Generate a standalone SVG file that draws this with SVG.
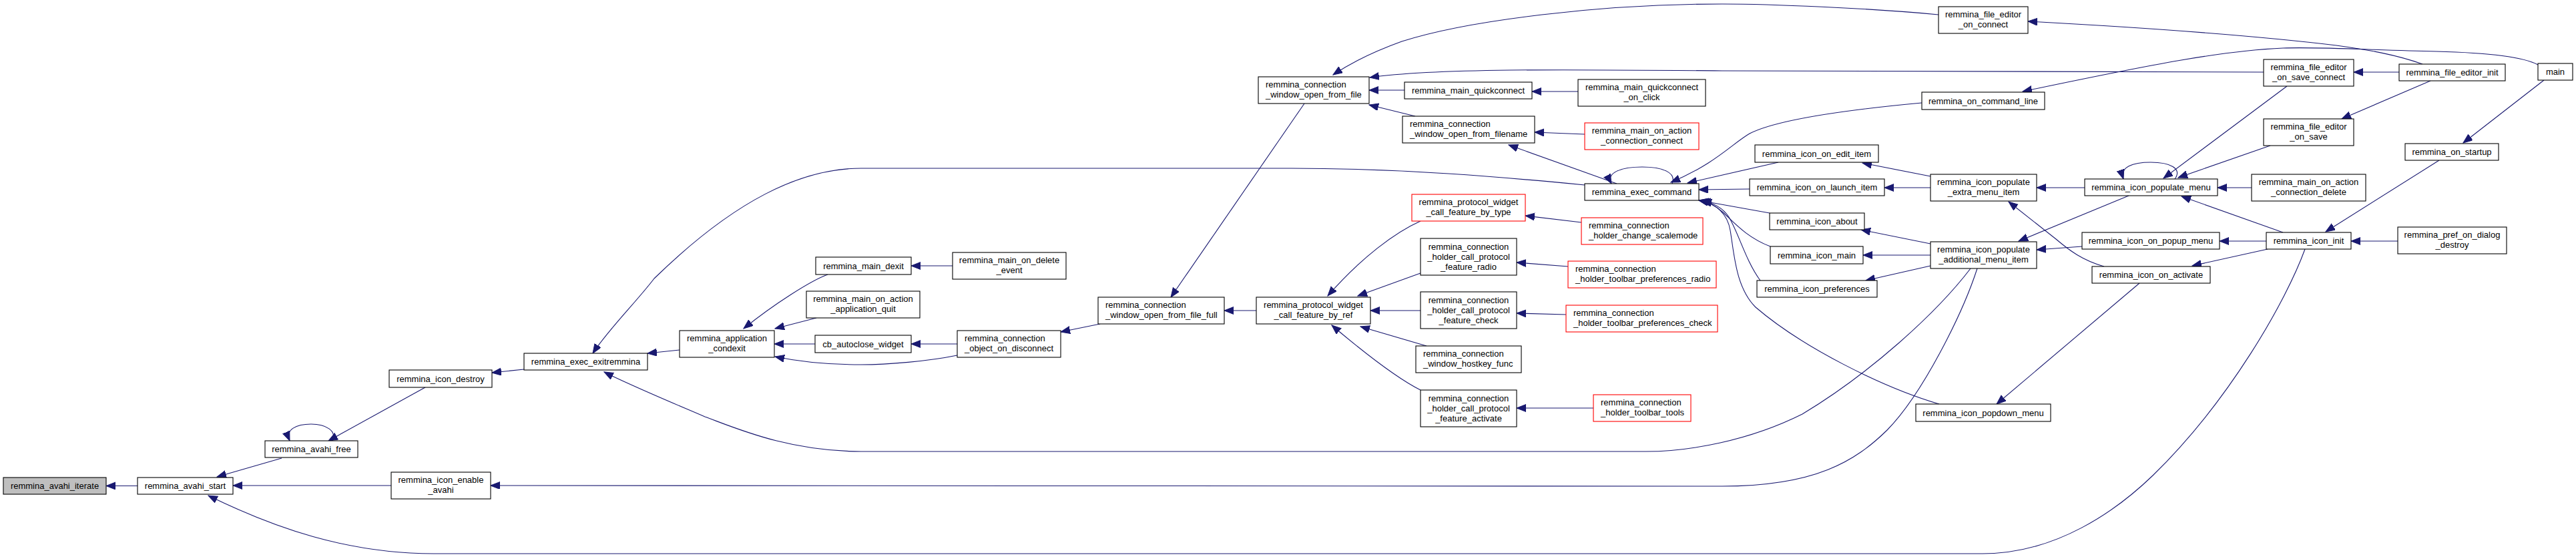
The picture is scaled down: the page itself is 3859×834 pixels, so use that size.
<svg xmlns="http://www.w3.org/2000/svg" width="3859" height="834" viewBox="0 0 3859 834">
<style>
.n rect{fill:#fff;stroke:#000;stroke-width:1.1}
.n.r rect{stroke:#ff0000}
.n.s rect{fill:#bfbfbf}
text{font-family:"Liberation Sans",Arial,Helvetica,sans-serif;font-size:13px;fill:#000}
.c{text-anchor:middle}
.l{text-anchor:start}
#edges path{fill:none;stroke:#191970;stroke-width:1.1;marker-end:url(#ah)}
</style>
<defs>
<marker id="ah" markerUnits="userSpaceOnUse" markerWidth="15" markerHeight="12" refX="14" refY="5.5" orient="auto" viewBox="0 0 15 12">
<path d="M0,0 L14,5.5 L0,11 z" fill="#191970" stroke="#191970" stroke-width="1"/>
</marker>
</defs>
<rect x="0" y="0" width="3859" height="834" fill="#fff"/>
<g id="edges">
<path d="M206,727.5 L159,727.5"/>
<path d="M422,686 L325,714"/>
<path d="M498,660 C505,645 488,635 466,635 C444,635 427,643 434,660"/>
<path d="M637,580 L492,660"/>
<path d="M586,727 L349,727"/>
<path d="M2962,402 C2940,470 2880,590 2827,644 C2780,690 2720,728 2580,728 L735,727"/>
<path d="M3453,373 C3425,450 3340,600 3225,712 C3170,765 3080,829 2970,829 L650,829 C520,829 410,790 312,742"/>
<path d="M785,553 L737,558"/>
<path d="M1018,524 L970,529"/>
<path d="M2374,277 C2250,265 2100,252 1935,252 L1290,252 C1200,252 1100,300 980,417 C955,450 910,495 888,529"/>
<path d="M2952,402 C2900,470 2800,560 2700,620 C2620,660 2530,676 2466,676 L1290,676 C1180,676 1100,640 1056,624 C1000,600 940,575 905,557"/>
<path d="M1240,411 C1215,420 1160,455 1114,492"/>
<path d="M1223,476 L1161,492"/>
<path d="M1221,515 L1160,515"/>
<path d="M1434,532 C1390,541 1330,546 1290,546 C1230,546 1190,540 1161,534"/>
<path d="M1427,398 L1365,398"/>
<path d="M1434,515 L1365,515"/>
<path d="M1648,485 L1589,497"/>
<path d="M1954,155 L1754,445"/>
<path d="M1882,465 L1834,465"/>
<path d="M2104,135 L2051,135"/>
<path d="M2120,174 L2051,157"/>
<path d="M2904,22 C2800,12 2650,6 2580,6 C2400,6 2200,30 2100,62 C2050,80 2015,100 1997,112"/>
<path d="M3391,108 L2580,106 C2350,104 2150,102 2052,116"/>
<path d="M2364,137 L2295,137"/>
<path d="M2374,201 L2299,198"/>
<path d="M2422,275 L2260,217"/>
<path d="M2505,275 C2512,258 2490,250 2460,250 C2430,250 2405,258 2414,275"/>
<path d="M2879,154 C2760,165 2660,180 2621,200 C2595,215 2570,245 2503,273"/>
<path d="M2664,243 L2528,274"/>
<path d="M2621,283 L2545,284"/>
<path d="M2651,319 L2545,300"/>
<path d="M2652,369 C2615,355 2595,330 2580,317 C2570,308 2560,303 2545,300"/>
<path d="M2637,420 C2615,390 2605,350 2590,325 C2580,310 2565,303 2548,300"/>
<path d="M2905,605 C2820,580 2700,520 2630,460 C2600,430 2598,380 2592,345 C2588,320 2570,305 2550,301"/>
<path d="M2892,264 L2790,244"/>
<path d="M2892,281 L2823,281"/>
<path d="M3123,281 L3051,281"/>
<path d="M3152,399 C3120,390 3100,375 3080,358 L3009,302"/>
<path d="M2892,365 L2788,344"/>
<path d="M2892,382 L2791,382"/>
<path d="M2892,398 L2795,420"/>
<path d="M3189,293 L3024,361"/>
<path d="M3119,369 L3051,374"/>
<path d="M3205,424 L2991,605"/>
<path d="M3258,268 C3270,252 3250,243 3222,243 C3195,243 3175,250 3181,268"/>
<path d="M3426,129 L3241,267"/>
<path d="M3401,218 L3263,266"/>
<path d="M3373,281 L3322,281"/>
<path d="M3420,348 L3268,294"/>
<path d="M3395,361 L3325,361"/>
<path d="M3397,373 L3284,398"/>
<path d="M3592,361 L3522,361"/>
<path d="M3654,240 L3484,347"/>
<path d="M3811,120 L3690,214"/>
<path d="M3641,121 L3508,178"/>
<path d="M3594,108 L3526,108"/>
<path d="M3629,96 C3590,82 3550,75 3500,68 C3350,50 3150,38 3038,32"/>
<path d="M3802,97 C3780,85 3730,79 3650,77 C3550,75 3480,70 3420,72 C3330,76 3230,95 3030,137"/>
<path d="M2128,331 C2090,348 2040,385 1989,443"/>
<path d="M2128,409 L2034,443"/>
<path d="M2128,465 L2053,465"/>
<path d="M2137,518 L2038,489"/>
<path d="M2128,584 C2090,565 2040,525 1995,487"/>
<path d="M2369,333 L2285,323"/>
<path d="M2349,399 L2272,393"/>
<path d="M2346,471 L2272,469"/>
<path d="M2387,611 L2272,611"/>
</g>
<g id="n1" class="n s"><rect x="5" y="715" width="154" height="25"/><text class="c" x="82" y="732">remmina_avahi_iterate</text></g>
<g id="n2" class="n"><rect x="206" y="715" width="143" height="25"/><text class="c" x="277.5" y="732">remmina_avahi_start</text></g>
<g id="n3" class="n"><rect x="397" y="660" width="139" height="25"/><text class="c" x="466.5" y="677">remmina_avahi_free</text></g>
<g id="n4" class="n"><rect x="583" y="554" width="154" height="26"/><text class="c" x="660" y="571.5">remmina_icon_destroy</text></g>
<g id="n5" class="n"><rect x="586" y="707" width="149" height="40"/><text class="c" x="660.5" y="723">remmina_icon_enable</text><text class="c" x="660.5" y="738">_avahi</text></g>
<g id="n6" class="n"><rect x="785" y="529" width="185" height="25"/><text class="c" x="877.5" y="546">remmina_exec_exitremmina</text></g>
<g id="n7" class="n"><rect x="1018" y="495" width="142" height="40"/><text class="c" x="1089" y="511">remmina_application</text><text class="c" x="1089" y="526">_condexit</text></g>
<g id="n8" class="n"><rect x="1208" y="436" width="170" height="40"/><text class="c" x="1293" y="452">remmina_main_on_action</text><text class="c" x="1293" y="467">_application_quit</text></g>
<g id="n9" class="n"><rect x="1221" y="502" width="144" height="26"/><text class="c" x="1293" y="519.5">cb_autoclose_widget</text></g>
<g id="n10" class="n"><rect x="1222" y="385" width="143" height="26"/><text class="c" x="1293.5" y="402.5">remmina_main_dexit</text></g>
<g id="n11" class="n"><rect x="1427" y="378" width="170" height="40"/><text class="c" x="1512" y="394">remmina_main_on_delete</text><text class="c" x="1512" y="409">_event</text></g>
<g id="n12" class="n"><rect x="1434" y="495" width="155" height="40"/><text class="l" x="1445" y="511">remmina_connection</text><text class="l" x="1445" y="526">_object_on_disconnect</text></g>
<g id="n13" class="n"><rect x="1645" y="445" width="189" height="40"/><text class="l" x="1656" y="461">remmina_connection</text><text class="l" x="1656" y="476">_window_open_from_file_full</text></g>
<g id="n14" class="n"><rect x="1882" y="445" width="171" height="40"/><text class="c" x="1967.5" y="461">remmina_protocol_widget</text><text class="c" x="1967.5" y="476">_call_feature_by_ref</text></g>
<g id="n15" class="n"><rect x="1885" y="115" width="166" height="40"/><text class="l" x="1896" y="131">remmina_connection</text><text class="l" x="1896" y="146">_window_open_from_file</text></g>
<g id="n16" class="n"><rect x="2104" y="123" width="191" height="25"/><text class="c" x="2199.5" y="140">remmina_main_quickconnect</text></g>
<g id="n17" class="n"><rect x="2364" y="119" width="191" height="40"/><text class="c" x="2459.5" y="135">remmina_main_quickconnect</text><text class="c" x="2459.5" y="150">_on_click</text></g>
<g id="n18" class="n"><rect x="2101" y="174" width="198" height="40"/><text class="l" x="2112" y="190">remmina_connection</text><text class="l" x="2112" y="205">_window_open_from_filename</text></g>
<g id="n19" class="n r"><rect x="2374" y="184" width="171" height="40"/><text class="c" x="2459.5" y="200">remmina_main_on_action</text><text class="c" x="2459.5" y="215">_connection_connect</text></g>
<g id="n20" class="n"><rect x="2374" y="275" width="171" height="25"/><text class="c" x="2459.5" y="292">remmina_exec_command</text></g>
<g id="n21" class="n r"><rect x="2115" y="291" width="170" height="40"/><text class="c" x="2200" y="307">remmina_protocol_widget</text><text class="c" x="2200" y="322">_call_feature_by_type</text></g>
<g id="n22" class="n r"><rect x="2369" y="326" width="182" height="40"/><text class="l" x="2380" y="342">remmina_connection</text><text class="l" x="2380" y="357">_holder_change_scalemode</text></g>
<g id="n23" class="n"><rect x="2128" y="357" width="144" height="55"/><text class="c" x="2200" y="373.5">remmina_connection</text><text class="c" x="2200" y="388.5">_holder_call_protocol</text><text class="c" x="2200" y="403.5">_feature_radio</text></g>
<g id="n24" class="n r"><rect x="2349" y="391" width="222" height="40"/><text class="l" x="2360" y="407">remmina_connection</text><text class="l" x="2360" y="422">_holder_toolbar_preferences_radio</text></g>
<g id="n25" class="n"><rect x="2128" y="437" width="144" height="55"/><text class="c" x="2200" y="453.5">remmina_connection</text><text class="c" x="2200" y="468.5">_holder_call_protocol</text><text class="c" x="2200" y="483.5">_feature_check</text></g>
<g id="n26" class="n r"><rect x="2346" y="457" width="227" height="40"/><text class="l" x="2357" y="473">remmina_connection</text><text class="l" x="2357" y="488">_holder_toolbar_preferences_check</text></g>
<g id="n27" class="n"><rect x="2121" y="518" width="158" height="40"/><text class="l" x="2132" y="534">remmina_connection</text><text class="l" x="2132" y="549">_window_hostkey_func</text></g>
<g id="n28" class="n"><rect x="2128" y="584" width="144" height="55"/><text class="c" x="2200" y="600.5">remmina_connection</text><text class="c" x="2200" y="615.5">_holder_call_protocol</text><text class="c" x="2200" y="630.5">_feature_activate</text></g>
<g id="n29" class="n r"><rect x="2387" y="591" width="146" height="40"/><text class="l" x="2398" y="607">remmina_connection</text><text class="l" x="2398" y="622">_holder_toolbar_tools</text></g>
<g id="n30" class="n"><rect x="2904" y="10" width="134" height="40"/><text class="c" x="2971" y="26">remmina_file_editor</text><text class="c" x="2971" y="41">_on_connect</text></g>
<g id="n31" class="n"><rect x="2879" y="138" width="184" height="26"/><text class="c" x="2971" y="155.5">remmina_on_command_line</text></g>
<g id="n32" class="n"><rect x="2629" y="217" width="185" height="26"/><text class="c" x="2721.5" y="234.5">remmina_icon_on_edit_item</text></g>
<g id="n33" class="n"><rect x="2621" y="268" width="202" height="25"/><text class="c" x="2722" y="285">remmina_icon_on_launch_item</text></g>
<g id="n34" class="n"><rect x="2892" y="261" width="159" height="40"/><text class="c" x="2971.5" y="277">remmina_icon_populate</text><text class="c" x="2971.5" y="292">_extra_menu_item</text></g>
<g id="n35" class="n"><rect x="2651" y="319" width="142" height="25"/><text class="c" x="2722" y="336">remmina_icon_about</text></g>
<g id="n36" class="n"><rect x="2652" y="369" width="139" height="26"/><text class="c" x="2721.5" y="386.5">remmina_icon_main</text></g>
<g id="n37" class="n"><rect x="2892" y="362" width="159" height="40"/><text class="c" x="2971.5" y="378">remmina_icon_populate</text><text class="c" x="2971.5" y="393">_additional_menu_item</text></g>
<g id="n38" class="n"><rect x="2632" y="420" width="180" height="25"/><text class="c" x="2722" y="437">remmina_icon_preferences</text></g>
<g id="n39" class="n"><rect x="2870" y="605" width="202" height="26"/><text class="c" x="2971" y="622.5">remmina_icon_popdown_menu</text></g>
<g id="n40" class="n"><rect x="3123" y="268" width="199" height="25"/><text class="c" x="3222.5" y="285">remmina_icon_populate_menu</text></g>
<g id="n41" class="n"><rect x="3119" y="348" width="206" height="25"/><text class="c" x="3222" y="365">remmina_icon_on_popup_menu</text></g>
<g id="n42" class="n"><rect x="3134" y="399" width="177" height="25"/><text class="c" x="3222.5" y="416">remmina_icon_on_activate</text></g>
<g id="n43" class="n"><rect x="3391" y="89" width="135" height="40"/><text class="c" x="3458.5" y="105">remmina_file_editor</text><text class="c" x="3458.5" y="120">_on_save_connect</text></g>
<g id="n44" class="n"><rect x="3594" y="96" width="159" height="25"/><text class="c" x="3673.5" y="113">remmina_file_editor_init</text></g>
<g id="n45" class="n"><rect x="3802" y="95" width="52" height="25"/><text class="c" x="3828" y="112">main</text></g>
<g id="n46" class="n"><rect x="3391" y="178" width="135" height="40"/><text class="c" x="3458.5" y="194">remmina_file_editor</text><text class="c" x="3458.5" y="209">_on_save</text></g>
<g id="n47" class="n"><rect x="3603" y="215" width="140" height="25"/><text class="c" x="3673" y="232">remmina_on_startup</text></g>
<g id="n48" class="n"><rect x="3373" y="261" width="171" height="40"/><text class="c" x="3458.5" y="277">remmina_main_on_action</text><text class="c" x="3458.5" y="292">_connection_delete</text></g>
<g id="n49" class="n"><rect x="3395" y="348" width="127" height="25"/><text class="c" x="3458.5" y="365">remmina_icon_init</text></g>
<g id="n50" class="n"><rect x="3592" y="340" width="163" height="40"/><text class="c" x="3673.5" y="356">remmina_pref_on_dialog</text><text class="c" x="3673.5" y="371">_destroy</text></g>
</svg>
